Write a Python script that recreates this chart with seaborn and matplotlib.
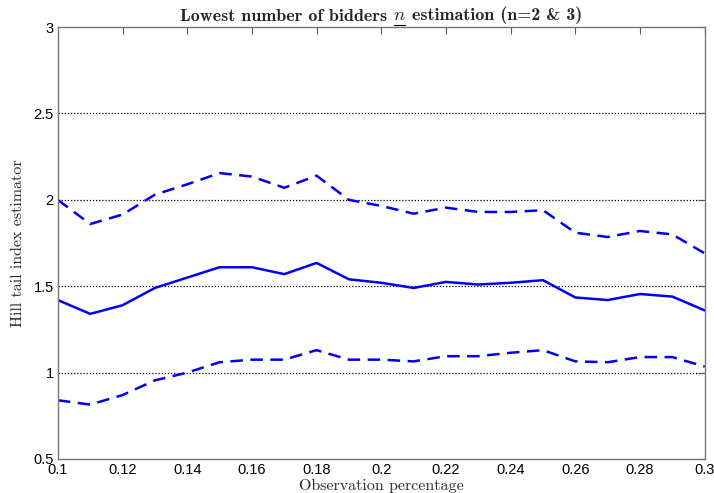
import numpy as np
import pandas as pd
import matplotlib
matplotlib.use("Agg")
import matplotlib.pyplot as plt
from matplotlib.lines import Line2D
import seaborn as sns

obs_pct = [0.10, 0.11, 0.12, 0.13, 0.14, 0.15, 0.16, 0.17, 0.18, 0.19, 0.20,
           0.21, 0.22, 0.23, 0.24, 0.25, 0.26, 0.27, 0.28, 0.29, 0.30]
hill_est = [1.42, 1.34, 1.39, 1.49, 1.55, 1.61, 1.61, 1.57, 1.635, 1.54, 1.52,
            1.49, 1.525, 1.51, 1.52, 1.535, 1.435, 1.42, 1.455, 1.44, 1.36]
upper_ci = [2.00, 1.86, 1.915, 2.03, 2.09, 2.155, 2.135, 2.07, 2.14, 2.00, 1.965,
            1.92, 1.955, 1.93, 1.93, 1.94, 1.81, 1.785, 1.82, 1.80, 1.69]
lower_ci = [0.84, 0.815, 0.87, 0.955, 1.00, 1.06, 1.075, 1.075, 1.13, 1.075, 1.075,
            1.065, 1.095, 1.095, 1.115, 1.13, 1.065, 1.06, 1.09, 1.09, 1.035]
x_ticks = [0.1, 0.12, 0.14, 0.16, 0.18, 0.2, 0.22, 0.24, 0.26, 0.28, 0.3]
x_tick_labels = ["0.1", "0.12", "0.14", "0.16", "0.18", "0.2", "0.22", "0.24", "0.26", "0.28", "0.3"]
y_ticks = [0.5, 1, 1.5, 2, 2.5, 3]
y_tick_labels = ["0.5", "1", "1.5", "2", "2.5", "3"]
title_left = "Lowest number of bidders "
title_var = "$n$"
title_right = " estimation (n=2 & 3)"

sns.set_style("white")
plt.rcParams["font.family"] = ["Liberation Sans", "DejaVu Sans"]
plt.rcParams["mathtext.fontset"] = "cm"

fig = plt.figure(figsize=(7.14, 4.93), dpi=100)
ax = fig.add_axes([0.081, 0.069, 0.906, 0.876])

df = pd.DataFrame({"x": obs_pct, "est": hill_est, "up": upper_ci, "lo": lower_ci})
blue = "#0000ee"
sns.lineplot(data=df, x="x", y="est", ax=ax, color=blue, linewidth=1.8)
sns.lineplot(data=df, x="x", y="up", ax=ax, color=blue, linewidth=1.8, linestyle=(0, (5, 3)))
sns.lineplot(data=df, x="x", y="lo", ax=ax, color=blue, linewidth=1.8, linestyle=(0, (5, 3)))

ax.set_xlim(0.1, 0.3)
ax.set_ylim(0.5, 3)
ax.set_xticks(x_ticks)
ax.set_xticklabels(x_tick_labels)
ax.set_yticks(y_ticks)
ax.set_yticklabels(y_tick_labels)
for yv in y_ticks[1:-1]:
    ax.axhline(yv, color="black", linestyle=(0, (1, 1.5)), linewidth=0.9, zorder=0)

ax.tick_params(axis="both", direction="in", length=5, width=0.8, colors="#555555",
               labelcolor="black", labelsize=10.5, top=True, right=True, pad=3)
for s in ax.spines.values():
    s.set_color("#777777")
    s.set_linewidth(1.0)

ax.set_xlabel("Observation percentage", fontfamily="cmr10", fontsize=11.5, labelpad=1)
ax.set_ylabel("Hill tail index estimator", fontfamily="cmr10", fontsize=11.5, labelpad=6)

# Title built in three pieces so the variable can be underlined
tsize = 13
t1 = fig.text(0.0, 0.958, title_left, fontfamily="cmb10", fontsize=tsize, va="baseline", ha="left")
t2 = ax.annotate(title_var, xy=(1, 0), xycoords=t1, va="bottom", ha="left", fontsize=tsize + 0.5,
                 annotation_clip=False)
t3 = ax.annotate(title_right, xy=(1, 0), xycoords=t2, va="bottom", ha="left", fontfamily="cmb10",
                 fontsize=tsize, annotation_clip=False)
fig.canvas.draw()
r = fig.canvas.get_renderer()
b1 = t1.get_window_extent(r)
b3 = t3.get_window_extent(r)
total = b3.x1 - b1.x0
axb = ax.get_window_extent(r)
center = (axb.x0 + axb.x1) / 2
t1.set_x((center - total / 2) / fig.bbox.width)
fig.canvas.draw()
b2 = t2.get_window_extent(r)
bt = t1.get_window_extent(r)
uy = bt.y0 - 1.0
fig.add_artist(Line2D([b2.x0 + 1, b2.x1 - 1], [uy, uy], transform=None, color="black", linewidth=0.8))

fig.savefig("out.png", dpi=100)
